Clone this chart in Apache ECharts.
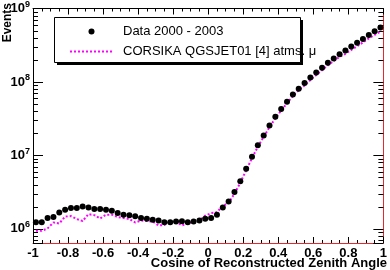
<!DOCTYPE html>
<html><head><meta charset="utf-8">
<script src="https://cdn.jsdelivr.net/npm/echarts@6/dist/echarts.min.js"></script>
<style>html,body{margin:0;padding:0;background:#fff}#c{width:390px;height:270px}</style>
</head><body><div id="c"></div>
<script>
// bin centres of cos(zenith), 60 bins from -1 to 1
const binCenters = [-0.9833,-0.95,-0.9167,-0.8833,-0.85,-0.8167,-0.7833,-0.75,-0.7167,-0.6833,-0.65,-0.6167,-0.5833,-0.55,-0.5167,-0.4833,-0.45,-0.4167,-0.3833,-0.35,-0.3167,-0.2833,-0.25,-0.2167,-0.1833,-0.15,-0.1167,-0.0833,-0.05,-0.0167,0.0167,0.05,0.0833,0.1167,0.15,0.1833,0.2167,0.25,0.2833,0.3167,0.35,0.3833,0.4167,0.45,0.4833,0.5167,0.55,0.5833,0.6167,0.65,0.6833,0.7167,0.75,0.7833,0.8167,0.85,0.8833,0.9167,0.95,0.9833];
const dataEvents = [1.229e6,1.23e6,1.407e6,1.443e6,1.672e6,1.817e6,1.915e6,1.915e6,2.012e6,1.951e6,1.856e6,1.856e6,1.817e6,1.762e6,1.642e6,1.558e6,1.534e6,1.479e6,1.407e6,1.365e6,1.323e6,1.295e6,1.229e6,1.229e6,1.256e6,1.268e6,1.229e6,1.256e6,1.295e6,1.365e6,1.407e6,1.558e6,1.951e6,2.346e6,3.162e6,4.438e6,6.557e6,9.58e6,1.373e7,1.868e7,2.542e7,3.353e7,4.263e7,5.37e7,6.723e7,8.088e7,9.64e7,1.149e8,1.34e8,1.563e8,1.823e8,2.08e8,2.375e8,2.686e8,3.038e8,3.405e8,3.851e8,4.355e8,4.882e8,5.521e8];
const mcEvents = [9.37e5,9.37e5,1.012e6,1.218e6,1.181e6,1.465e6,1.488e6,1.357e6,1.275e6,1.582e6,1.534e6,1.377e6,1.558e6,1.558e6,1.443e6,1.398e6,1.357e6,1.218e6,1.295e6,1.275e6,1.256e6,1.11e6,1.127e6,1.236e6,1.236e6,1.11e6,1.199e6,1.236e6,1.295e6,1.511e6,1.632e6,1.682e6,2.055e6,2.24e6,3.018e6,4.236e6,6.262e6,9.146e6,1.311e7,1.784e7,2.427e7,3.202e7,4.07e7,5.128e7,6.42e7,7.722e7,8.926e7,1.063e8,1.24e8,1.447e8,1.688e8,1.926e8,2.199e8,2.412e8,2.728e8,3.057e8,3.458e8,3.91e8,4.355e8,4.852e8];
const seriesNames = ['Data 2000 - 2003', 'CORSIKA QGSJET01 [4] atms. \u03bc'];
const xTitle = 'Cosine of Reconstructed Zenith Angle';
const yTitle = 'Events';
const yMin = 6.4e5, yMax = 1e9;
const yMinorTicks = [7e5,8e5,9e5,2e6,3e6,4e6,5e6,6e6,7e6,8e6,9e6,2e7,3e7,4e7,5e7,6e7,7e7,8e7,9e7,2e8,3e8,4e8,5e8,6e8,7e8,8e8,9e8];

const chart = echarts.init(document.getElementById('c'), null, {renderer: 'canvas'});
const FONT = '"Liberation Sans", Arial, sans-serif';
const pow10Label = v => {
  const e = Math.round(Math.log10(v));
  if (Math.abs(v - Math.pow(10, e)) / v > 1e-6) return '';
  return '{b|10}{s|' + e + '}';
};
const option = {
  animation: false,
  grid: {left: 33, right: 3, top: 4, bottom: 27},
  legend: {
    orient: 'vertical', left: 64, top: 20, itemWidth: 43, itemHeight: 6, itemGap: 7,
    data: [{name: seriesNames[0]}, {name: seriesNames[1], itemStyle: {opacity: 0}}],
    selectedMode: false,
    textStyle: {fontFamily: FONT, fontSize: 13, color: '#000', padding: [0, 0, 0, 5]}
  },
  graphic: [
    {type: 'rect', z: 3, shape: {x: 57, y: 20, width: 246, height: 45}, style: {fill: '#000'}},
    {type: 'rect', z: 3, shape: {x: 54.5, y: 17.5, width: 246, height: 45}, style: {fill: '#fff', stroke: '#000', lineWidth: 1}},
    {type: 'text', x: 8, y: 3, rotation: Math.PI / 2, style: {text: yTitle, font: 'bold 12px ' + FONT, fill: '#000', align: 'right', verticalAlign: 'middle'}},
    {type: 'text', x: 387, y: 263, style: {text: xTitle, font: 'bold 13px ' + FONT, fill: '#000', align: 'right', verticalAlign: 'middle'}}
  ],
  xAxis: [
    {type: 'value', min: -1, max: 1, interval: 0.2, position: 'bottom',
     axisLine: {show: true, onZero: false, lineStyle: {color: '#e8282c', width: 1}},
     axisTick: {show: true, inside: true, length: 6, lineStyle: {color: '#000'}},
     minorTick: {show: true, splitNumber: 4, length: 3, lineStyle: {color: '#000'}},
     axisLabel: {fontFamily: FONT, fontWeight: 'bold', fontSize: 13, color: '#000', margin: 4},
     splitLine: {show: false}},
    {type: 'value', min: -1, max: 1, interval: 0.2, position: 'top',
     axisLine: {show: true, onZero: false, lineStyle: {color: '#000'}},
     axisTick: {show: true, inside: true, length: 6, lineStyle: {color: '#000'}},
     minorTick: {show: true, splitNumber: 4, length: 3, lineStyle: {color: '#000'}},
     axisLabel: {show: false}, splitLine: {show: false}}
  ],
  yAxis: [
    {type: 'log', logBase: 10, min: yMin, max: yMax, position: 'left',
     axisLine: {show: true, onZero: false, lineStyle: {color: '#000'}},
     axisTick: {show: true, inside: true, length: 10, lineStyle: {color: '#000'}},
     axisLabel: {margin: 3, formatter: pow10Label,
       rich: {b: {fontFamily: FONT, fontWeight: 'bold', fontSize: 13, color: '#000'},
              s: {fontFamily: FONT, fontWeight: 'bold', fontSize: 9, color: '#000', padding: [0, 0, 8, 0]}}},
     splitLine: {show: false}},
    {type: 'log', logBase: 10, min: yMin, max: yMax, position: 'right',
     axisLine: {show: true, onZero: false, lineStyle: {color: '#e8282c'}},
     axisTick: {show: true, inside: true, length: 10, lineStyle: {color: '#000'}},
     axisLabel: {show: false}, splitLine: {show: false}}
  ],
  series: [
    {name: 'minorTicks', type: 'custom', silent: true, clip: false, z: 1,
     data: yMinorTicks.map(v => [-1, v]),
     renderItem: (params, api) => {
       const y = Math.round(api.coord([-1, api.value(1)])[1]) + 0.5;
       const cs = params.coordSys;
       return {type: 'group', children: [
         {type: 'line', shape: {x1: cs.x, y1: y, x2: cs.x + 5, y2: y}, style: {stroke: '#000', lineWidth: 1}},
         {type: 'line', shape: {x1: cs.x + cs.width - 5, y1: y, x2: cs.x + cs.width, y2: y}, style: {stroke: '#000', lineWidth: 1}}
       ]};
     }},
    {name: seriesNames[1], type: 'line', z: 2, showSymbol: false, symbol: 'none',
     data: binCenters.map((x, i) => [x, mcEvents[i]]),
     lineStyle: {color: '#ff00ff', width: 2, type: [2, 2]}, itemStyle: {color: '#ff00ff'}},
    {name: seriesNames[0], type: 'scatter', z: 3, symbol: 'circle', symbolSize: 6,
     data: binCenters.map((x, i) => [x, dataEvents[i]]),
     itemStyle: {color: '#000', opacity: 1}}
  ]
};
chart.setOption(option);
</script></body></html>
